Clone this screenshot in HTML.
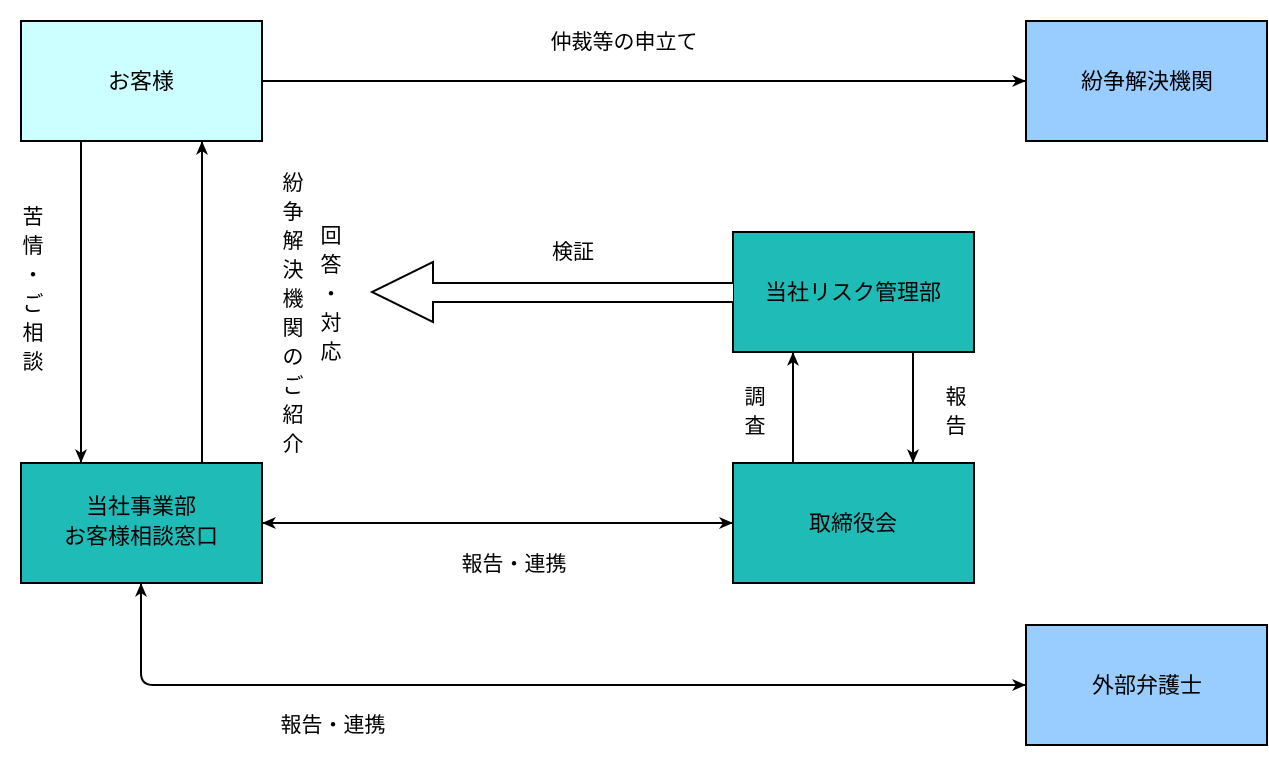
<!DOCTYPE html>
<html><head><meta charset="utf-8"><style>
html,body{margin:0;padding:0;background:#fff;}
svg{display:block;}
.b{font-family:"Liberation Sans","Noto Sans CJK JP",sans-serif;font-size:22px;fill:#000;}
.s{font-family:"Liberation Sans","Noto Sans CJK JP",sans-serif;font-size:21px;fill:#000;}
</style></head><body>
<svg width="1269" height="766" viewBox="0 0 1269 766" xmlns="http://www.w3.org/2000/svg">
<defs>
<marker id="a" markerWidth="16" markerHeight="14" refX="13" refY="6" orient="auto-start-reverse" markerUnits="userSpaceOnUse">
<path d="M0,0 L14,6 L0,12 L4,6 Z" fill="#000"/></marker>
</defs>
<g stroke="#000" stroke-width="2">
<rect x="21" y="21" width="241" height="120" fill="#ccffff"/>
<rect x="1026" y="21" width="241" height="120" fill="#99ccff"/>
<rect x="21" y="463" width="241" height="120" fill="#1fbbb7"/>
<rect x="733" y="463" width="241" height="120" fill="#1fbbb7"/>
<rect x="733" y="232" width="241" height="120" fill="#1fbbb7"/>
<rect x="1026" y="625" width="241" height="120" fill="#99ccff"/>
</g>
<g stroke="#000" stroke-width="2" fill="none">
<line x1="262" y1="81" x2="1025" y2="81" marker-end="url(#a)"/>
<line x1="81" y1="141" x2="81" y2="462" marker-end="url(#a)"/>
<line x1="202" y1="463" x2="202" y2="142" marker-end="url(#a)"/>
<line x1="913" y1="352" x2="913" y2="462" marker-end="url(#a)"/>
<line x1="793" y1="463" x2="793" y2="353" marker-end="url(#a)"/>
<line x1="263" y1="523" x2="732" y2="523" marker-start="url(#a)" marker-end="url(#a)"/>
<path d="M141,584 L141,673 Q141,685 153,685 L1025,685" marker-start="url(#a)" marker-end="url(#a)"/>
<path d="M733,283 L433,283 L433,262 L372,292 L433,322 L433,302 L733,302" fill="#fff"/>
</g>
<text class="b" x="141" y="89" text-anchor="middle">お客様</text>
<text class="b" x="1147" y="89" text-anchor="middle">紛争解決機関</text>
<text class="b" x="141" y="514" text-anchor="middle">当社事業部</text>
<text class="b" x="141" y="544" text-anchor="middle">お客様相談窓口</text>
<text class="b" x="853" y="531" text-anchor="middle">取締役会</text>
<text class="b" x="853" y="300" text-anchor="middle">当社リスク管理部</text>
<text class="b" x="1147" y="693" text-anchor="middle">外部弁護士</text>
<text class="s" x="624" y="49" text-anchor="middle">仲裁等の申立て</text>
<text class="s" x="573" y="259" text-anchor="middle">検証</text>
<text class="s" x="514" y="571" text-anchor="middle">報告・連携</text>
<text class="s" x="333" y="732" text-anchor="middle">報告・連携</text>
<g class="s" text-anchor="middle">
<text x="33" y="224">苦</text><text x="33" y="253">情</text><text x="33" y="282">・</text><text x="33" y="311">ご</text><text x="33" y="340">相</text><text x="33" y="369">談</text>
<text x="293" y="190">紛</text><text x="293" y="219">争</text><text x="293" y="248">解</text><text x="293" y="277">決</text><text x="293" y="306">機</text><text x="293" y="335">関</text><text x="293" y="364">の</text><text x="293" y="393">ご</text><text x="293" y="422">紹</text><text x="293" y="451">介</text>
<text x="331" y="243">回</text><text x="331" y="272">答</text><text x="331" y="301">・</text><text x="331" y="330">対</text><text x="331" y="359">応</text>
<text x="755" y="404">調</text><text x="755" y="433">査</text>
<text x="956" y="404">報</text><text x="956" y="433">告</text>
</g>
</svg>
</body></html>
